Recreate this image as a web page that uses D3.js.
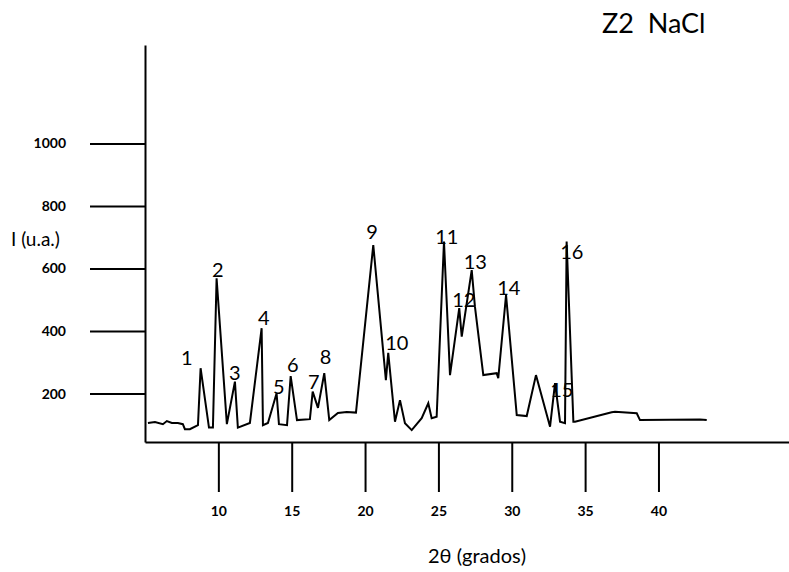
<!DOCTYPE html>
<html>
<head>
<meta charset="utf-8">
<script src="https://cdn.jsdelivr.net/npm/d3@7"></script>
<style>
  html, body { margin: 0; padding: 0; background: #fff; }
  svg { display: block; font-family: Lato, "Open Sans", sans-serif; }
</style>
</head>
<body>
<svg id="chart" width="789" height="572"></svg>
<script>
// ---- data ----
const twoTheta = [5.20,5.68,6.22,6.49,6.83,7.24,7.58,7.72,8.06,8.61,8.79,9.36,9.63,9.88,10.58,11.13,11.33,12.15,12.95,13.04,13.38,13.97,14.13,14.68,14.93,15.36,16.24,16.43,16.79,17.22,17.56,18.15,18.75,19.38,20.56,21.42,21.58,22.04,22.38,22.72,23.18,23.86,24.31,24.54,24.88,25.38,25.79,26.42,26.59,27.27,27.49,28.06,28.97,29.08,29.61,30.34,31.02,31.65,32.61,32.95,33.29,33.63,33.74,34.20,34.31,36.81,37.04,38.52,38.74,42.83,43.29];
const intensity = [106,109,102,112,106,106,102,86,86,99,281,91,91,569,102,238,91,106,409,99,106,201,102,99,256,115,118,206,154,265,115,138,141,139,675,243,330,110,179,105,83,121,169,121,126,686,259,473,382,595,478,259,265,249,515,131,128,259,94,233,110,105,686,110,110,140,142,137,115,117,115];
const peakLabels = ["1","2","3","4","5","6","7","8","9","10","11","12","13","14","15","16"];
const peakX = [7.85,9.96,11.12,13.09,14.12,15.07,16.5,17.30,20.48,22.16,25.57,26.73,27.52,29.8,33.41,34.09];
const peakY = [314,595,266,442,222,291,238,318,718,363,702,499,622,538,211,654];
const xTicks = [10,15,20,25,30,35,40];
const yTicks = [200,400,600,800,1000];
const xDomain = [5,49];
const yDomain = [45,1315];
const title = "Z2\u00a0\u00a0NaCl";
const xTitle = "2\u03b8 (grados)";
const yTitle = "I (u.a.)";

// ---- chart ----
const svg = d3.select("#chart");
const x = d3.scaleLinear().domain(xDomain).range([145, 790.5]);
const y = d3.scaleLinear().domain(yDomain).range([442, 45]);

const xAxis = svg.append("g")
  .attr("transform", `translate(0,${y(yDomain[0])})`)
  .call(d3.axisBottom(x).tickValues(xTicks).tickFormat(d3.format("d"))
    .tickSize(50).tickSizeOuter(0).tickPadding(14));
const yAxis = svg.append("g")
  .attr("transform", `translate(${x(xDomain[0])},0)`)
  .call(d3.axisLeft(y).tickValues(yTicks).tickFormat(d3.format("d"))
    .tickSize(55).tickSizeOuter(0).tickPadding(24));

[xAxis, yAxis].forEach(g => {
  g.select(".domain").attr("stroke", "#000").attr("stroke-width", 2);
  g.selectAll(".tick line").attr("stroke", "#000").attr("stroke-width", 2);
  g.selectAll(".tick text").attr("fill", "#000")
    .attr("font-family", "Lato, sans-serif").attr("font-weight", "bold").attr("font-size", 14);
});

const pts = twoTheta.map((t, i) => [t, intensity[i]]);
svg.append("path")
  .datum(pts)
  .attr("fill", "none")
  .attr("stroke", "#000")
  .attr("stroke-width", 2)
  .attr("stroke-linejoin", "miter")
  .attr("d", d3.line().x(d => x(d[0])).y(d => y(d[1])));

svg.append("g").selectAll("text")
  .data(peakLabels)
  .join("text")
  .attr("x", (d, i) => x(peakX[i]))
  .attr("y", (d, i) => y(peakY[i]))
  .attr("dy", "0.35em")
  .attr("text-anchor", "middle")
  .attr("font-size", 20)
  .attr("fill", "#000")
  .text(d => d);

svg.append("text").attr("x", 602).attr("y", 33)
  .attr("font-size", 27).attr("fill", "#000").text(title);
svg.append("text").attr("x", 477).attr("y", 563).attr("text-anchor", "middle")
  .attr("font-size", 20).attr("fill", "#000").text(xTitle);
svg.append("text").attr("x", 11).attr("y", 246)
  .attr("font-size", 19).attr("fill", "#000").text(yTitle);
</script>
</body>
</html>
